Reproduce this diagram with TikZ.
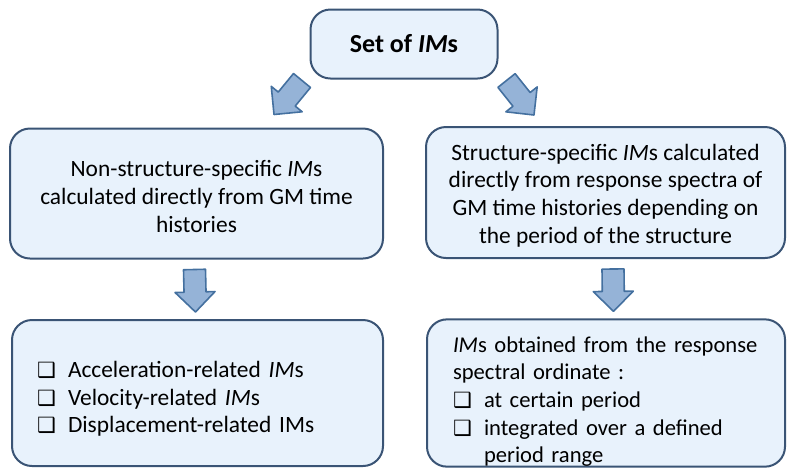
\documentclass[tikz,border=0pt]{standalone}
\usepackage{fontspec}
\setmainfont{Carlito}
\newfontfamily\symfont{DejaVu Sans}
\usetikzlibrary{calc}

\definecolor{boxfill}{HTML}{E8F2FC}
\definecolor{boxline}{HTML}{3A5475}
\definecolor{arrfill}{HTML}{95B3D7}
\definecolor{arrline}{HTML}{44709F}

\newcommand\IM{\textit{IM}s}
\newcommand\chkbox{\makebox[15.5pt][l]{\symfont\fontsize{10.5}{10}\selectfont ❑}}

% 粗箭头: #1 尾, #2 尖
\newcommand\fatarrow[2]{%
  \coordinate (fa-h) at ($(#2)!10pt!(#1)$);
  \draw[fat] ($(#1)!5.5pt!90:(#2)$) -- ($(fa-h)!5.5pt!90:(#2)$) -- ($(fa-h)!10pt!90:(#2)$)
    -- (#2) -- ($(fa-h)!10pt!-90:(#2)$) -- ($(fa-h)!5.5pt!-90:(#2)$) -- ($(#1)!5.5pt!-90:(#2)$) -- cycle;}

\begin{document}
\begin{tikzpicture}[x=0.5pt,y=-0.5pt,
  box/.style={draw=boxline,line width=1pt,fill=boxfill,rounded corners=10pt,inner sep=0pt},
  fat/.style={draw=arrline,fill=arrfill,line width=0.8pt,line join=round},
  font=\fontsize{11.7}{13.8}\selectfont]
\useasboundingbox (0,0) rectangle (787,468);      %画布

\node[box,minimum width=93.5pt,minimum height=34.5pt,font=\fontsize{13}{15}\selectfont\bfseries]
  (set) at (404,44) {Set of \IM};                 %顶框

\node[box,minimum width=186.5pt,minimum height=65pt,align=center] (nss) at (196.5,193.5)
  {\rule{0pt}{11pt}Non-structure-specific \IM\\calculated directly from GM time\\histories};
\node[box,minimum width=179.5pt,minimum height=65.5pt,align=center] (ss) at (605.5,192.5)
  {\rule{0pt}{11pt}Structure-specific \IM{} calculated\\directly from response spectra of\\GM time histories depending on\\the period of the structure};   %中间两框

\node[box,minimum height=73pt,inner xsep=12.5pt,text width=160.5pt,align=left] (acc) at (197.5,393)
  {\rule{0pt}{14pt}\chkbox Acceleration-related \IM\\\chkbox Velocity-related \IM\\\chkbox Displacement-related IMs};
\node[box,minimum height=73pt,inner xsep=13pt,text width=153pt,align=left,
  font=\fontsize{11.3}{13.8}\selectfont] (spec) at (606,393)
  {\rule{0pt}{16.5pt}\mbox{\IM{} obtained from the response}\\spectral ordinate :\\\chkbox at certain period\\
   \chkbox integrated over a defined\\\hspace*{15.5pt}period range};   %底部两框

\coordinate (l1) at ($(set.south west)+(-7.5,1)$);
\coordinate (l2) at ($(nss.north east)+(-110,-13)$);
\coordinate (r1) at ($(set.south east)+(8,1)$);
\coordinate (r2) at ($(ss.north west)+(109,-11)$);
\fatarrow{l1}{l2}
\fatarrow{r1}{r2}                                 %斜箭头

\foreach \a/\b/\dx in {nss/acc/-2,ss/spec/7.5}
{
  \coordinate (d1) at ($(\a.south)+(\dx,10)$);
  \coordinate (d2) at ($(\b.north)+(\dx,-7)$);
  \fatarrow{d1}{d2}
};                                                %向下箭头
\end{tikzpicture}
\end{document}
